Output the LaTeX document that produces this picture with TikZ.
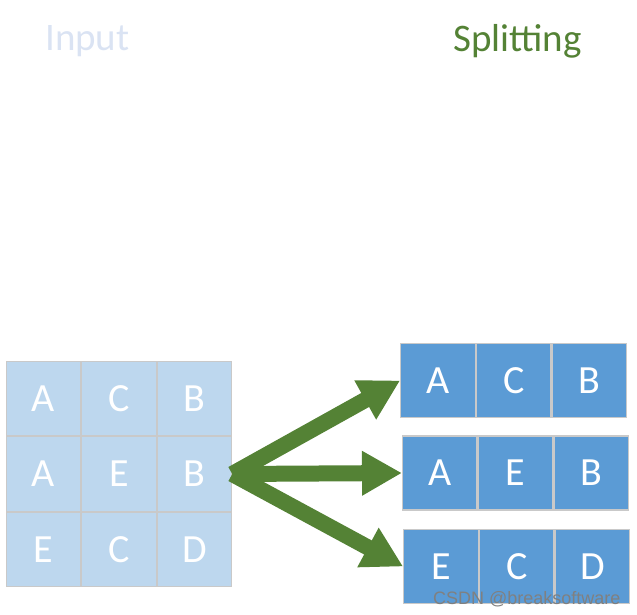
\documentclass[tikz,border=0pt]{standalone}
\usepackage{fontspec}
\setmainfont{Carlito}
\newfontfamily\wmfont{Liberation Sans}
\usepackage{tikz}
\usetikzlibrary{arrows.meta, positioning}

\definecolor{inblue}{HTML}{BDD7EE}
\definecolor{outblue}{HTML}{5B9BD5}
\definecolor{cellgray}{HTML}{C9C9C9}
\definecolor{arrowgreen}{HTML}{548235}
\definecolor{titlelav}{HTML}{DAE3F3}

\tikzset{
  incell/.style={draw=cellgray, fill=inblue, line width=1pt, minimum width=74.5pt,
    minimum height=74.5pt, inner sep=0pt, text=white, font=\fontsize{40}{42}\selectfont},
  outcell/.style={draw=cellgray, fill=outblue, line width=1.2pt, minimum width=74.5pt,
    minimum height=74pt, inner sep=0pt, text=white, font=\fontsize{40}{42}\selectfont},
  split/.style={draw=arrowgreen, line width=16pt,
    -{Triangle[length=40pt, width=42pt]}},
}

\begin{document}
\begin{tikzpicture}[x=1pt, y=-1pt]
                \useasboundingbox (0,0) rectangle (637,614);
                % titles
                \node[anchor=base west, inner sep=0pt, text=titlelav,
                  font=\fontsize{39}{41}\selectfont] (tin) at (45,50) {Input};
                \node[anchor=base west, inner sep=0pt, text=arrowgreen,
                  font=\fontsize{39}{41}\selectfont] (tsplit) at (453,51) {Splitting};
                % input grid
                \node[incell] (i11) at (43.5,398.5) {A};
                \node[incell, right=0pt of i11] (i12) {C};
                \node[incell, right=0pt of i12] (i13) {B};
                \node[incell, below=0pt of i11] (i21) {A};
                \node[incell, right=0pt of i21] (i22) {E};
                \node[incell, right=0pt of i22] (i23) {B};
                \node[incell, below=0pt of i21] (i31) {E};
                \node[incell, right=0pt of i31] (i32) {C};
                \node[incell, right=0pt of i32] (i33) {D};
                % split rows
                \node[outcell] (a1) at (438,380.5) {A};
                \node[outcell, right=0pt of a1] (a2) {C};
                \node[outcell, right=0pt of a2] (a3) {B};
                \node[outcell] (b1) at (439.8,473) {A};
                \node[outcell, right=0pt of b1] (b2) {E};
                \node[outcell, right=0pt of b2] (b3) {B};
                \node[outcell] (c1) at (441,566.5) {E};
                \node[outcell, right=0pt of c1] (c2) {C};
                \node[outcell, right=0pt of c2] (c3) {D};
                % arrows
                \coordinate (src) at (i23.east);
                \draw[split] (src) -- (a1.west);
                \draw[split] (src) -- (b1.west);
                \draw[split] (src) -- (c1.west);
                % watermark
                \node[anchor=base west, inner sep=0pt, text=gray,
                  font=\wmfont\fontsize{18}{20}\selectfont] (wm) at (433,604) {CSDN @breaksoftware};
            \end{tikzpicture}
\end{document}
